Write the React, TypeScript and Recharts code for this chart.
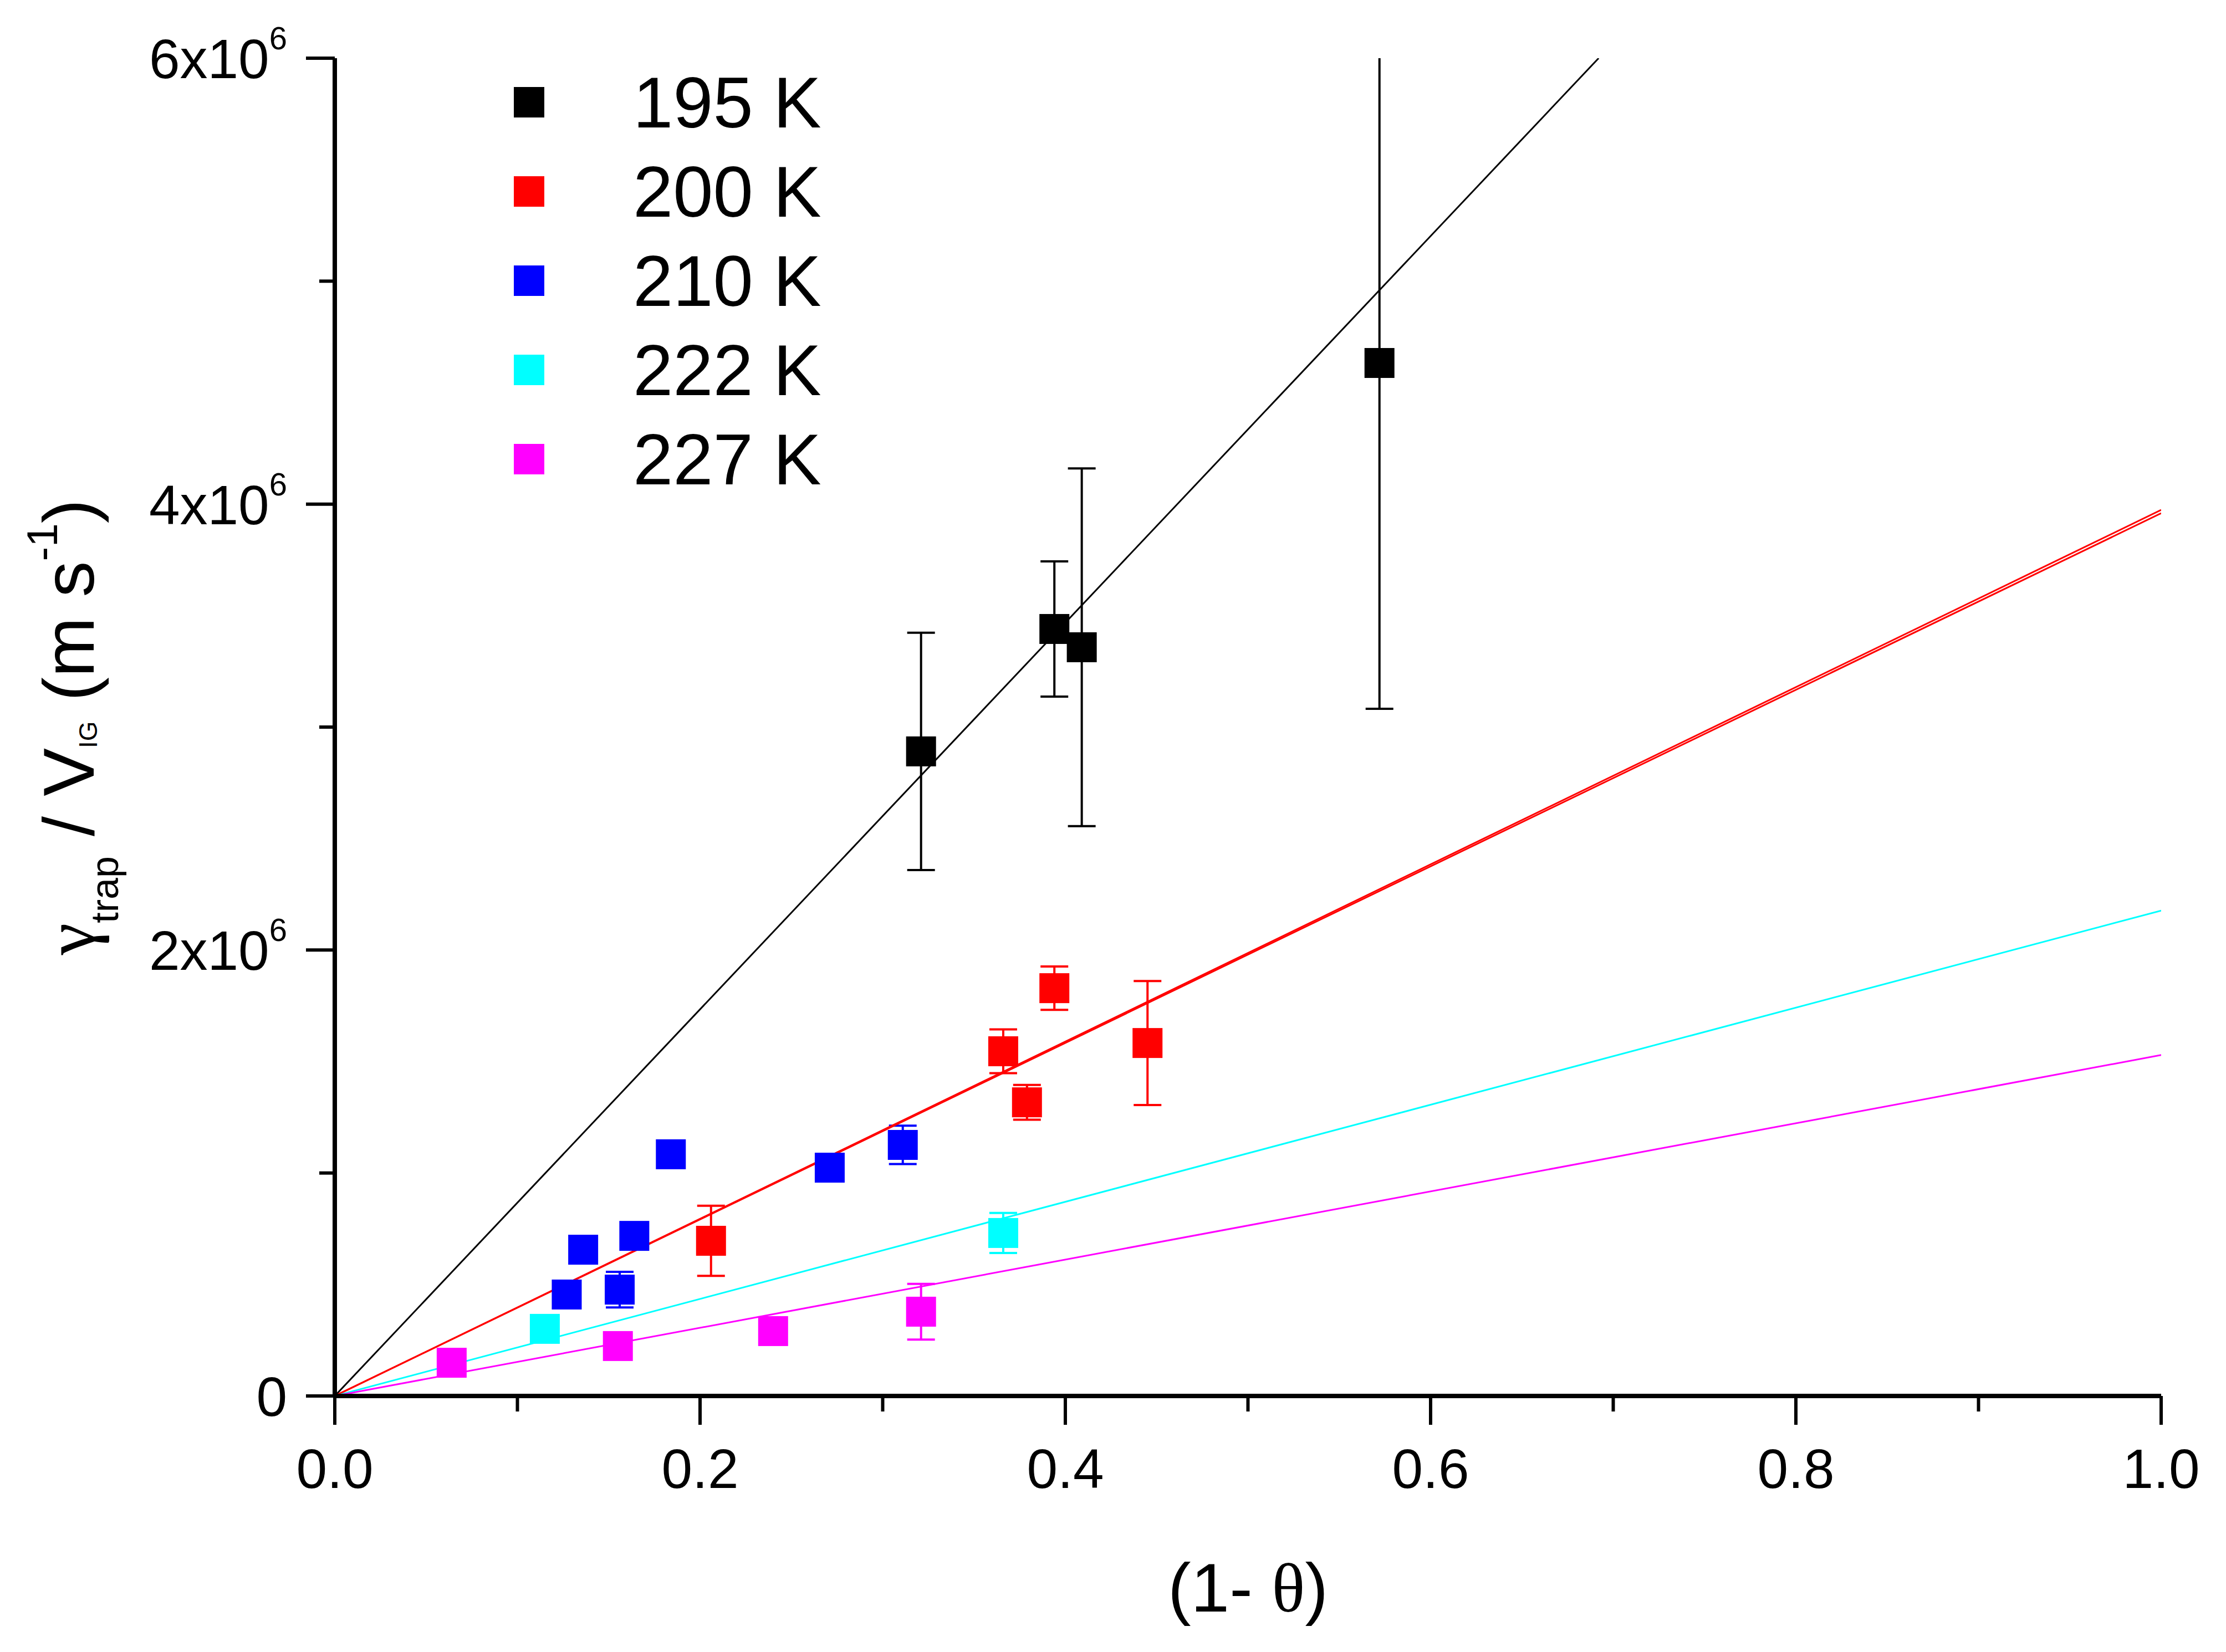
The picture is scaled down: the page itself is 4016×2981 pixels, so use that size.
import React from 'react';
import { ComposedChart, Scatter, Line, XAxis, YAxis, ErrorBar, Legend, Label } from 'recharts';

const FONT = '"Liberation Sans", Arial, Helvetica, sans-serif';
const GREEK = '"Liberation Serif", "Times New Roman", serif';

// plot box inside the 4016 x 2981 picture
const PLOT = { left: 604, top: 105, right: 3899, bottom: 2519 };
const AXIS_W = 100;
const AXIS_H = 100;

// legend entries and colours
const seriesNames = ['195 K', '200 K', '210 K', '222 K', '227 K'];
const seriesColors = ['#000000', '#ff0000', '#0000ff', '#00ffff', '#ff00ff'];

// measured points: (1 - theta), gamma_trap / V_IG, y error
const x195 = [0.321, 0.394, 0.409, 0.572];
const y195 = [2.891e6, 3.44e6, 3.358e6, 4.633e6];
const e195 = [0.532e6, 0.303e6, 0.802e6, 1.551e6];

const x200 = [0.206, 0.366, 0.379, 0.394, 0.445];
const y200 = [0.696e6, 1.546e6, 1.317e6, 1.829e6, 1.583e6];
const e200 = [0.157e6, 0.098e6, 0.078e6, 0.097e6, 0.278e6];

const x210 = [0.127, 0.136, 0.156, 0.164, 0.184, 0.271, 0.311];
const y210 = [0.455e6, 0.656e6, 0.477e6, 0.718e6, 1.084e6, 1.024e6, 1.126e6];
const e210 = [0, 0, 0.08e6, 0, 0, 0, 0.086e6];

const x222 = [0.115, 0.366];
const y222 = [0.301e6, 0.731e6];
const e222 = [0, 0.09e6];

const x227 = [0.064, 0.155, 0.24, 0.321];
const y227 = [0.149e6, 0.224e6, 0.291e6, 0.378e6];
const e227 = [0, 0, 0, 0.125e6];

// linear fits through the origin (end points)
const fitX195 = [0, 0.692];
const fitY195 = [0, 6.0e6];
const fitX = [0, 1.0];
const fitY200a = [0, 3.974e6];
const fitY200b = [0, 3.959e6];
const fitY222 = [0, 2.177e6];
const fitY227 = [0, 1.529e6];

// axes
const xTicks = [0, 0.1, 0.2, 0.3, 0.4, 0.5, 0.6, 0.7, 0.8, 0.9, 1.0];
const xMajor = [0, 0.2, 0.4, 0.6, 0.8, 1.0];
const xTickLabels = ['0.0', '0.2', '0.4', '0.6', '0.8', '1.0'];
const yTicks = [0, 1e6, 2e6, 3e6, 4e6, 5e6, 6e6];
const yMajor = [0, 2e6, 4e6, 6e6];
const yTickMantissa = ['0', '2x10', '4x10', '6x10'];
const yTickExponent = ['', '6', '6', '6'];

const pts = (xs: number[], ys: number[], es?: number[]) =>
  xs.map((x, i) => ({ x, y: ys[i], err: es ? es[i] : 0 }));

const pointSeries = [
  pts(x195, y195, e195),
  pts(x200, y200, e200),
  pts(x210, y210, e210),
  pts(x222, y222, e222),
  pts(x227, y227, e227),
];

const fitLines = [
  { data: pts(fitX195, fitY195), color: seriesColors[0] },
  { data: pts(fitX, fitY200a), color: seriesColors[1] },
  { data: pts(fitX, fitY200b), color: seriesColors[1] },
  { data: pts(fitX, fitY222), color: seriesColors[3] },
  { data: pts(fitX, fitY227), color: seriesColors[4] },
];

const SquareDot = (props: any) => {
  const { cx, cy, fill } = props;
  if (cx == null || cy == null) return null;
  return <rect x={cx - 27} y={cy - 27} width={54} height={54} fill={fill} />;
};

const YTick = (props: any) => {
  const { x, y, payload } = props;
  const idx = yMajor.indexOf(payload.value);
  const major = idx >= 0;
  return (
    <g>
      <line x1={x} y1={y} x2={x - (major ? 52 : 28)} y2={y} stroke="#000" strokeWidth={6} />
      {major && (
        <text x={x - 86} y={y} dy={36} textAnchor="end" fontFamily={FONT} fontSize={100} fill="#000">
          {yTickMantissa[idx]}
          {yTickExponent[idx] && (
            <tspan dy={-52} fontSize={58}>
              {yTickExponent[idx]}
            </tspan>
          )}
        </text>
      )}
    </g>
  );
};

const XTick = (props: any) => {
  const { x, y, payload } = props;
  const idx = xMajor.findIndex((v) => Math.abs(v - payload.value) < 1e-9);
  const major = idx >= 0;
  return (
    <g>
      <line x1={x} y1={y} x2={x} y2={y + (major ? 52 : 28)} stroke="#000" strokeWidth={6} />
      {major && (
        <text x={x} y={y + 166} textAnchor="middle" fontFamily={FONT} fontSize={100} fill="#000">
          {xTickLabels[idx]}
        </text>
      )}
    </g>
  );
};

const YTitle = (props: any) => {
  const { viewBox } = props;
  const cx = viewBox.x + viewBox.width - 435;
  const cy = viewBox.y + viewBox.height / 2;
  return (
    <text
      x={cx}
      y={cy}
      transform={`rotate(-90, ${cx}, ${cy})`}
      textAnchor="middle"
      fontFamily={FONT}
      fontSize={130}
      fill="#000"
    >
      <tspan fontFamily={GREEK}>γ</tspan>
      <tspan fontSize={70} dy={44}>trap</tspan>
      <tspan dy={-44}> / V</tspan>
      <tspan fontSize={46} dy={6}>IG</tspan>
      <tspan dy={-6}> (m s</tspan>
      <tspan fontSize={77} dy={-66}>-1</tspan>
      <tspan dy={66}>)</tspan>
    </text>
  );
};

const XTitle = (props: any) => {
  const { viewBox } = props;
  const cx = viewBox.x + viewBox.width / 2;
  return (
    <text x={cx} y={viewBox.y + 389} textAnchor="middle" fontFamily={FONT} fontSize={125} fill="#000">
      (1- <tspan fontFamily={GREEK}>θ</tspan>)
    </text>
  );
};

const renderLegend = () => (
  <div style={{ display: 'flex', flexDirection: 'column', fontFamily: FONT }}>
    {seriesNames.map((name, i) => (
      <div key={name} style={{ height: 161, display: 'flex', alignItems: 'center' }}>
        <div style={{ width: 55, height: 55, background: seriesColors[i] }} />
        <span style={{ marginLeft: 160, fontSize: 130, color: '#000', lineHeight: 1 }}>{name}</span>
      </div>
    ))}
  </div>
);

export default function App() {
  return (
    <div style={{ position: 'absolute', left: 0, top: 0, width: 4016, height: 2981, background: '#fff' }}>
      <ComposedChart
        width={4016}
        height={2981}
        margin={{
          top: PLOT.top,
          right: 4016 - PLOT.right,
          bottom: 2981 - PLOT.bottom - AXIS_H,
          left: PLOT.left - AXIS_W,
        }}
      >
        <defs>
          <clipPath id="plot-area-clip">
            <rect x={PLOT.left} y={PLOT.top} width={PLOT.right - PLOT.left} height={PLOT.bottom - PLOT.top} />
          </clipPath>
        </defs>
        <XAxis
          type="number"
          dataKey="x"
          domain={[0, 1]}
          ticks={xTicks}
          interval={0}
          allowDataOverflow
          height={AXIS_H}
          tickSize={0}
          tickMargin={0}
          tickLine={false}
          axisLine={{ stroke: '#000', strokeWidth: 8 }}
          tick={<XTick />}
        >
          <Label content={<XTitle />} />
        </XAxis>
        <YAxis
          type="number"
          dataKey="y"
          domain={[0, 6e6]}
          ticks={yTicks}
          interval={0}
          allowDataOverflow
          width={AXIS_W}
          tickSize={0}
          tickMargin={0}
          tickLine={false}
          axisLine={{ stroke: '#000', strokeWidth: 8 }}
          tick={<YTick />}
        >
          <Label content={<YTitle />} />
        </YAxis>
        <Legend
          layout="vertical"
          align="center"
          verticalAlign="middle"
          content={renderLegend}
          wrapperStyle={{ left: 927, top: 104, width: 'auto' }}
        />
        {pointSeries.map((data, i) => (
          <Scatter
            key={seriesNames[i]}
            name={seriesNames[i]}
            data={data}
            dataKey="y"
            fill={seriesColors[i]}
            shape={<SquareDot />}
            isAnimationActive={false}
          >
            <ErrorBar
              dataKey="err"
              direction="y"
              width={25}
              strokeWidth={4}
              stroke={seriesColors[i]}
              clipPath="url(#plot-area-clip)"
              isAnimationActive={false}
            />
          </Scatter>
        ))}
        {fitLines.map((f, i) => (
          <Line
            key={'fit' + i}
            data={f.data}
            dataKey="y"
            type="linear"
            stroke={f.color}
            strokeWidth={3}
            dot={false}
            activeDot={false}
            legendType="none"
            isAnimationActive={false}
          />
        ))}
      </ComposedChart>
    </div>
  );
}
